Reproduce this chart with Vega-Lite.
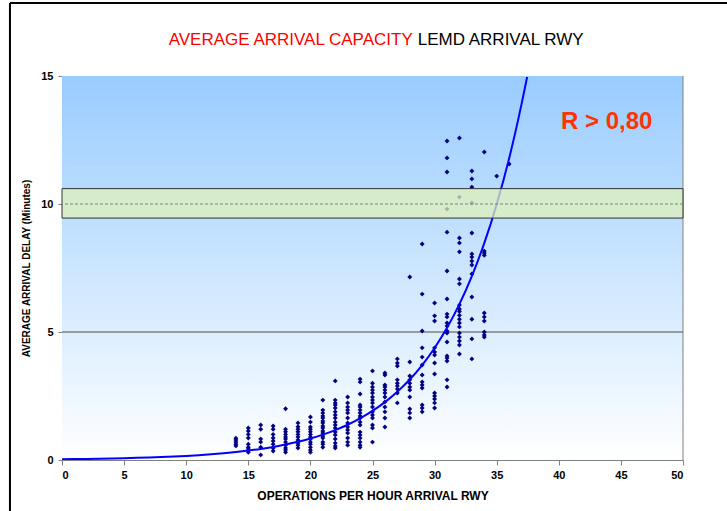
{
  "$schema": "https://vega.github.io/schema/vega-lite/v6.json",
  "width": 621,
  "height": 384,
  "autosize": {"type": "none"},
  "padding": {"left": 62, "top": 76, "right": 44, "bottom": 51},
  "background": "white",
  "config": {
    "view": {"stroke": null},
    "font": "Liberation Sans",
    "axis": {"labelFont": "Liberation Sans", "titleFont": "Liberation Sans", "labelFontWeight": "bold", "titleFontWeight": "bold", "labelFontSize": 11, "titleFontSize": 11, "labelColor": "#000000", "titleColor": "#000000", "domainColor": "#808080", "tickColor": "#808080", "grid": false, "zindex": 1}
  },
  "datasets": {
    "obs": [
      {"ops":14,"delay":0.55},{"ops":14,"delay":0.62},{"ops":14,"delay":0.7},{"ops":14,"delay":0.78},{"ops":14,"delay":0.85},
      {"ops":15,"delay":1.25},{"ops":15,"delay":1.13},{"ops":15,"delay":1.0},{"ops":15,"delay":0.86},{"ops":15,"delay":0.62},{"ops":15,"delay":0.5},{"ops":15,"delay":0.43},{"ops":15,"delay":0.3},
      {"ops":16,"delay":1.37},{"ops":16,"delay":1.2},{"ops":16,"delay":0.82},{"ops":16,"delay":0.7},{"ops":16,"delay":0.5},{"ops":16,"delay":0.2},
      {"ops":17,"delay":1.33},{"ops":17,"delay":1.2},{"ops":17,"delay":1.0},{"ops":17,"delay":0.86},{"ops":17,"delay":0.74},{"ops":17,"delay":0.62},{"ops":17,"delay":0.47},{"ops":17,"delay":0.35},
      {"ops":18,"delay":2.0},{"ops":18,"delay":1.2},{"ops":18,"delay":1.1},{"ops":18,"delay":1.0},{"ops":18,"delay":0.9},{"ops":18,"delay":0.82},{"ops":18,"delay":0.7},{"ops":18,"delay":0.58},{"ops":18,"delay":0.47},{"ops":18,"delay":0.39},{"ops":18,"delay":0.3},
      {"ops":19,"delay":1.45},{"ops":19,"delay":1.3},{"ops":19,"delay":1.2},{"ops":19,"delay":1.1},{"ops":19,"delay":1.0},{"ops":19,"delay":0.9},{"ops":19,"delay":0.78},{"ops":19,"delay":0.66},{"ops":19,"delay":0.58},{"ops":19,"delay":0.47},
      {"ops":20,"delay":1.68},{"ops":20,"delay":1.48},{"ops":20,"delay":1.29},{"ops":20,"delay":1.2},{"ops":20,"delay":1.1},{"ops":20,"delay":1.0},{"ops":20,"delay":0.9},{"ops":20,"delay":0.82},{"ops":20,"delay":0.7},{"ops":20,"delay":0.62},{"ops":20,"delay":0.5},{"ops":20,"delay":0.39},{"ops":20,"delay":0.3},
      {"ops":21,"delay":2.34},{"ops":21,"delay":1.95},{"ops":21,"delay":1.84},{"ops":21,"delay":1.72},{"ops":21,"delay":1.64},{"ops":21,"delay":1.52},{"ops":21,"delay":1.45},{"ops":21,"delay":1.33},{"ops":21,"delay":1.25},{"ops":21,"delay":1.13},{"ops":21,"delay":1.05},{"ops":21,"delay":0.94},{"ops":21,"delay":0.86},{"ops":21,"delay":0.7},{"ops":21,"delay":0.62},{"ops":21,"delay":0.5},
      {"ops":22,"delay":3.09},{"ops":22,"delay":2.34},{"ops":22,"delay":2.23},{"ops":22,"delay":2.15},{"ops":22,"delay":2.03},{"ops":22,"delay":1.88},{"ops":22,"delay":1.76},{"ops":22,"delay":1.64},{"ops":22,"delay":1.48},{"ops":22,"delay":1.37},{"ops":22,"delay":1.25},{"ops":22,"delay":1.09},{"ops":22,"delay":0.98},{"ops":22,"delay":0.82},{"ops":22,"delay":0.66},{"ops":22,"delay":0.55},{"ops":22,"delay":0.47},
      {"ops":23,"delay":2.46},{"ops":23,"delay":2.23},{"ops":23,"delay":2.07},{"ops":23,"delay":1.95},{"ops":23,"delay":1.84},{"ops":23,"delay":1.64},{"ops":23,"delay":1.45},{"ops":23,"delay":1.29},{"ops":23,"delay":1.17},{"ops":23,"delay":1.05},{"ops":23,"delay":0.86},{"ops":23,"delay":0.7},{"ops":23,"delay":0.58},
      {"ops":24,"delay":3.16},{"ops":24,"delay":3.05},{"ops":24,"delay":2.58},{"ops":24,"delay":2.15},{"ops":24,"delay":2.07},{"ops":24,"delay":1.95},{"ops":24,"delay":1.84},{"ops":24,"delay":1.72},{"ops":24,"delay":1.64},{"ops":24,"delay":1.48},{"ops":24,"delay":1.37},{"ops":24,"delay":1.09},{"ops":24,"delay":0.98},{"ops":24,"delay":0.86},{"ops":24,"delay":0.7},{"ops":24,"delay":0.58},{"ops":24,"delay":0.5},
      {"ops":25,"delay":3.48},{"ops":25,"delay":3.0},{"ops":25,"delay":2.85},{"ops":25,"delay":2.73},{"ops":25,"delay":2.62},{"ops":25,"delay":2.46},{"ops":25,"delay":2.34},{"ops":25,"delay":2.23},{"ops":25,"delay":2.07},{"ops":25,"delay":1.88},{"ops":25,"delay":1.76},{"ops":25,"delay":1.64},{"ops":25,"delay":1.37},{"ops":25,"delay":1.25},{"ops":25,"delay":0.7},
      {"ops":26,"delay":3.4},{"ops":26,"delay":3.32},{"ops":26,"delay":2.93},{"ops":26,"delay":2.85},{"ops":26,"delay":2.73},{"ops":26,"delay":2.62},{"ops":26,"delay":2.46},{"ops":26,"delay":2.27},{"ops":26,"delay":2.07},{"ops":26,"delay":1.88},{"ops":26,"delay":1.64},{"ops":26,"delay":1.29},
      {"ops":27,"delay":3.95},{"ops":27,"delay":3.79},{"ops":27,"delay":3.67},{"ops":27,"delay":3.13},{"ops":27,"delay":3.0},{"ops":27,"delay":2.89},{"ops":27,"delay":2.77},{"ops":27,"delay":2.62},{"ops":27,"delay":2.23},
      {"ops":28,"delay":7.15},{"ops":28,"delay":3.83},{"ops":28,"delay":3.28},{"ops":28,"delay":3.13},{"ops":28,"delay":3.0},{"ops":28,"delay":2.85},{"ops":28,"delay":2.73},{"ops":28,"delay":2.46},{"ops":28,"delay":1.99},{"ops":28,"delay":1.84},{"ops":28,"delay":1.64},
      {"ops":29,"delay":8.44},{"ops":29,"delay":6.48},{"ops":29,"delay":5.04},{"ops":29,"delay":4.38},{"ops":29,"delay":4.02},{"ops":29,"delay":3.71},{"ops":29,"delay":3.32},{"ops":29,"delay":3.05},{"ops":29,"delay":2.93},{"ops":29,"delay":2.81},{"ops":29,"delay":2.15},{"ops":29,"delay":2.03},{"ops":29,"delay":1.88},
      {"ops":30,"delay":6.13},{"ops":30,"delay":5.63},{"ops":30,"delay":5.43},{"ops":30,"delay":4.38},{"ops":30,"delay":4.22},{"ops":30,"delay":4.1},{"ops":30,"delay":3.79},{"ops":30,"delay":3.36},{"ops":30,"delay":2.62},{"ops":30,"delay":2.5},{"ops":30,"delay":2.38},{"ops":30,"delay":2.23},{"ops":30,"delay":2.03},
      {"ops":31,"delay":12.46},{"ops":31,"delay":11.8},{"ops":31,"delay":11.25},{"ops":31,"delay":9.8},{"ops":31,"delay":8.9},{"ops":31,"delay":7.38},{"ops":31,"delay":6.29},{"ops":31,"delay":5.7},{"ops":31,"delay":5.59},{"ops":31,"delay":5.35},{"ops":31,"delay":5.23},{"ops":31,"delay":5.04},{"ops":31,"delay":4.96},{"ops":31,"delay":4.61},{"ops":31,"delay":4.06},{"ops":31,"delay":3.98},{"ops":31,"delay":3.87},{"ops":31,"delay":3.13},{"ops":31,"delay":2.85},
      {"ops":32,"delay":12.58},{"ops":32,"delay":10.27},{"ops":32,"delay":8.67},{"ops":32,"delay":8.48},{"ops":32,"delay":8.13},{"ops":32,"delay":7.07},{"ops":32,"delay":6.88},{"ops":32,"delay":6.05},{"ops":32,"delay":5.9},{"ops":32,"delay":5.8},{"ops":32,"delay":5.65},{"ops":32,"delay":5.5},{"ops":32,"delay":5.35},{"ops":32,"delay":5.2},{"ops":32,"delay":4.96},{"ops":32,"delay":4.8},{"ops":32,"delay":4.65},{"ops":32,"delay":4.49},{"ops":32,"delay":4.14},
      {"ops":33,"delay":11.29},{"ops":33,"delay":10.98},{"ops":33,"delay":10.66},{"ops":33,"delay":10.04},{"ops":33,"delay":8.87},{"ops":33,"delay":8.05},{"ops":33,"delay":7.93},{"ops":33,"delay":7.77},{"ops":33,"delay":7.62},{"ops":33,"delay":7.27},{"ops":33,"delay":6.37},{"ops":33,"delay":5.5},{"ops":33,"delay":4.73},{"ops":33,"delay":3.95},
      {"ops":34,"delay":12.03},{"ops":34,"delay":8.16},{"ops":34,"delay":8.09},{"ops":34,"delay":8.0},{"ops":34,"delay":5.74},{"ops":34,"delay":5.59},{"ops":34,"delay":5.43},{"ops":34,"delay":5.0},{"ops":34,"delay":4.88},{"ops":34,"delay":4.8},
      {"ops":35,"delay":11.09},
      {"ops":36,"delay":11.56}
    ],
    "trend": [
      {"ops":0,"delay":0.031},{"ops":1,"delay":0.0366},{"ops":2,"delay":0.0431},{"ops":3,"delay":0.0509},{"ops":4,"delay":0.06},{"ops":5,"delay":0.0707},{"ops":6,"delay":0.0834},{"ops":7,"delay":0.0984},{"ops":8,"delay":0.116},{"ops":9,"delay":0.137},{"ops":10,"delay":0.161},{"ops":11,"delay":0.19},{"ops":12,"delay":0.224},{"ops":13,"delay":0.265},{"ops":14,"delay":0.312},{"ops":15,"delay":0.368},{"ops":16,"delay":0.434},{"ops":17,"delay":0.512},{"ops":18,"delay":0.604},{"ops":19,"delay":0.712},{"ops":20,"delay":0.84},{"ops":21,"delay":0.991},{"ops":22,"delay":1.169},{"ops":23,"delay":1.378},{"ops":24,"delay":1.626},{"ops":25,"delay":1.917},{"ops":26,"delay":2.261},{"ops":27,"delay":2.667},{"ops":28,"delay":3.146},{"ops":29,"delay":3.71},{"ops":30,"delay":4.376},{"ops":31,"delay":5.162},{"ops":32,"delay":6.088},{"ops":33,"delay":7.181},{"ops":34,"delay":8.469},{"ops":35,"delay":9.99},{"ops":36,"delay":11.78},{"ops":37,"delay":13.9},{"ops":37.45,"delay":14.96}
    ]
  },
  "layer": [
    {
      "data": {"values": [{}]},
      "mark": {"type": "rect", "fill": {"gradient": "linear", "x1": 0, "y1": 0, "x2": 0, "y2": 1, "stops": [{"offset": 0, "color": "#99ccff"}, {"offset": 1, "color": "#ffffff"}]}},
      "encoding": {
        "x": {"datum": 0, "type": "quantitative", "scale": {"domain": [0, 50], "nice": false}, "axis": {"title": "OPERATIONS PER HOUR ARRIVAL RWY", "titleFontSize": 12, "values": [0,5,10,15,20,25,30,35,40,45,50], "tickSize": 5, "labelPadding": 4, "titlePadding": 10}},
        "x2": {"datum": 50},
        "y": {"datum": 0, "type": "quantitative", "scale": {"domain": [0, 15], "nice": false}, "axis": {"title": "AVERAGE ARRIVAL DELAY (Minutes)", "titleFontSize": 10, "values": [0,5,10,15], "tickSize": 4, "labelPadding": 5, "titlePadding": 9}},
        "y2": {"datum": 15}
      }
    },
    {
      "data": {"values": [{}]},
      "mark": {"type": "rule", "color": "#808080", "strokeWidth": 1.5},
      "encoding": {"y": {"datum": 5, "type": "quantitative"}}
    },
    {
      "data": {"values": [{}]},
      "mark": {"type": "rule", "color": "#808080", "strokeWidth": 1},
      "encoding": {"x": {"datum": 50, "type": "quantitative"}}
    },
    {
      "data": {"name": "obs"},
      "mark": {"type": "point", "shape": "diamond", "filled": true, "color": "#000080", "size": 24, "opacity": 1},
      "encoding": {
        "x": {"field": "ops", "type": "quantitative"},
        "y": {"field": "delay", "type": "quantitative"}
      }
    },
    {
      "data": {"name": "trend"},
      "mark": {"type": "line", "color": "#0000ff", "strokeWidth": 2, "interpolate": "monotone", "clip": true},
      "encoding": {
        "x": {"field": "ops", "type": "quantitative"},
        "y": {"field": "delay", "type": "quantitative"}
      }
    },
    {
      "data": {"values": [{}]},
      "mark": {"type": "rect", "fill": "#e0f0b8", "fillOpacity": 0.75, "stroke": "#333333", "strokeWidth": 1},
      "encoding": {
        "x": {"datum": 0, "type": "quantitative"},
        "x2": {"datum": 50},
        "y": {"datum": 9.45, "type": "quantitative"},
        "y2": {"datum": 10.6}
      }
    },
    {
      "data": {"values": [{}]},
      "mark": {"type": "rule", "color": "#808080", "strokeWidth": 1, "strokeDash": [3, 2]},
      "encoding": {"y": {"datum": 10, "type": "quantitative"}}
    },
    {
      "data": {"values": [{}]},
      "mark": {"type": "text", "text": "R > 0,80", "color": "#ff3300", "font": "Liberation Sans", "fontWeight": "bold", "fontSize": 24, "align": "center", "baseline": "middle"},
      "encoding": {"x": {"datum": 43.86, "type": "quantitative"}, "y": {"datum": 13.22, "type": "quantitative"}}
    },
    {
      "data": {"values": [{}]},
      "mark": {"type": "text", "text": "AVERAGE ARRIVAL CAPACITY", "color": "#ff0000", "font": "Liberation Sans", "fontSize": 17, "align": "right", "baseline": "middle", "dx": -2},
      "encoding": {"x": {"datum": 28.4, "type": "quantitative"}, "y": {"datum": 16.4, "type": "quantitative"}}
    },
    {
      "data": {"values": [{}]},
      "mark": {"type": "text", "text": "LEMD ARRIVAL RWY", "color": "#000000", "font": "Liberation Sans", "fontSize": 17, "align": "left", "baseline": "middle", "dx": 3},
      "encoding": {"x": {"datum": 28.4, "type": "quantitative"}, "y": {"datum": 16.4, "type": "quantitative"}}
    },
    {
      "data": {"values": [{}]},
      "mark": {"type": "rule", "color": "#000000", "strokeWidth": 2},
      "encoding": {"x": {"datum": -4.19, "type": "quantitative"}, "y": {"datum": 17.85, "type": "quantitative"}, "y2": {"datum": -2.2}}
    },
    {
      "data": {"values": [{}]},
      "mark": {"type": "rule", "color": "#000000", "strokeWidth": 2},
      "encoding": {"y": {"datum": 17.85, "type": "quantitative"}, "x": {"datum": -4.19, "type": "quantitative"}, "x2": {"datum": 54}}
    }
  ]
}
